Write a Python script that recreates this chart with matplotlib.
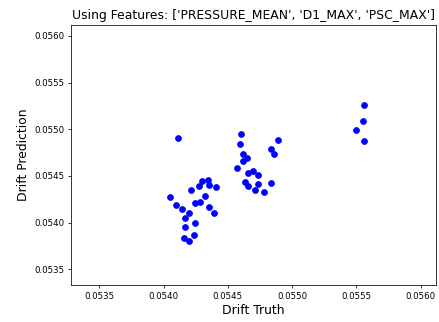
import matplotlib
matplotlib.use("Agg")
import matplotlib.pyplot as plt

# Drift values
truth = [
    0.054114, 0.054602, 0.054594, 0.054887, 0.054837, 0.054861, 0.054615, 0.054651,
    0.054615, 0.054568, 0.054693, 0.054659, 0.054734, 0.054631, 0.054656, 0.054734,
    0.054833, 0.054708, 0.054778, 0.054345, 0.054299, 0.054278, 0.054355, 0.054405,
    0.054211, 0.054052, 0.054324, 0.054247, 0.054281, 0.054094, 0.054351, 0.054143,
    0.054200, 0.054392, 0.054169, 0.054247, 0.054169, 0.054234, 0.054159, 0.054200,
    0.055558, 0.055551, 0.055494, 0.055558,
]
prediction = [
    0.054908, 0.054948, 0.054840, 0.054880, 0.054784, 0.054730, 0.054733, 0.054694,
    0.054662, 0.054580, 0.054555, 0.054533, 0.054512, 0.054430, 0.054388, 0.054415,
    0.054426, 0.054351, 0.054330, 0.054458, 0.054441, 0.054394, 0.054402, 0.054377,
    0.054351, 0.054273, 0.054281, 0.054206, 0.054216, 0.054184, 0.054166, 0.054141,
    0.054099, 0.054099, 0.054045, 0.053991, 0.053949, 0.053863, 0.053834, 0.053802,
    0.055261, 0.055087, 0.054994, 0.054869,
]
features = ['PRESSURE_MEAN', 'D1_MAX', 'PSC_MAX']
ticks = [0.0535, 0.0540, 0.0545, 0.0550, 0.0555, 0.0560]

fig = plt.figure(figsize=(6.4, 4.694), dpi=68.6)
ax = fig.add_axes([0.161, 0.115, 0.8315, 0.807])

ax.scatter(truth, prediction, color="blue")

ax.set_xlim(0.053278, 0.056117)
ax.set_ylim(0.053332, 0.056115)
ax.set_xticks(ticks)
ax.set_yticks(ticks)
ax.tick_params(labelsize=9)

ax.set_xlabel("Drift Truth", fontsize=13)
ax.set_ylabel("Drift Prediction", fontsize=13)
ax.set_title(f"Using Features: {features}", fontsize=13)

fig.savefig("out.png", dpi=68.6)
